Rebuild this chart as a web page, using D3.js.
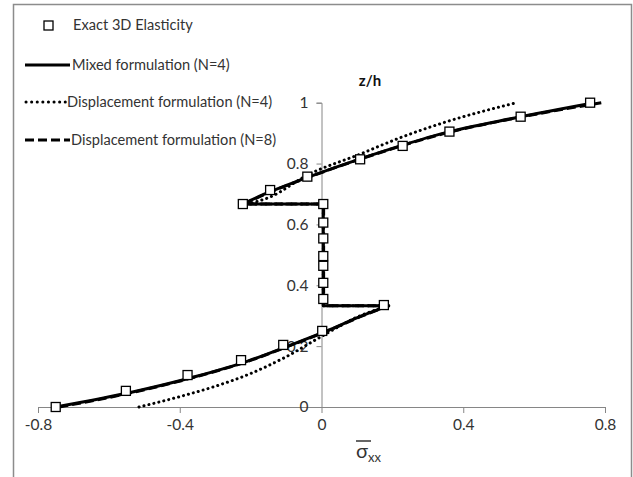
<!DOCTYPE html>
<html><head><meta charset="utf-8">
<script src="https://cdn.jsdelivr.net/npm/d3@7"></script>
<style>body{margin:0;background:#fff}svg{display:block}</style>
</head><body><svg id="c" width="633" height="477"></svg>
<script>
// ---- data ----
const exactX = [-0.75,-0.552,-0.378,-0.227,-0.108,0.002,0.176,0.005,0.005,0.005,0.005,0.005,0.005,0.005,-0.222,-0.145,-0.04,0.109,0.229,0.361,0.562,0.758];
const exactZ = [0,0.053,0.105,0.154,0.204,0.25,0.335,0.355,0.408,0.464,0.496,0.554,0.606,0.667,0.667,0.713,0.757,0.814,0.858,0.905,0.954,1.0];

const mixedX = [-0.75,-0.53,-0.355,-0.21,-0.095,0.015,0.115,0.19,0.005,0.005,-0.222,-0.16,-0.05,0.07,0.2,0.345,0.545,0.77];
const mixedZ = [0,0.05,0.1,0.15,0.2,0.25,0.3,0.333,0.333,0.667,0.667,0.7,0.75,0.8,0.85,0.9,0.95,1.0];

const disp4X = [-0.515,-0.4,-0.3,-0.2,-0.1,0,0.1,0.19,0.005,0.005,-0.21,-0.145,-0.04,0.109,0.22,0.36,0.544];
const disp4Z = [0,0.034,0.068,0.11,0.165,0.232,0.295,0.333,0.333,0.667,0.667,0.69,0.762,0.831,0.884,0.94,0.998];

const disp8X = [-0.74,-0.525,-0.352,-0.208,-0.093,0.017,0.117,0.192,0.006,0.006,-0.22,-0.158,-0.048,0.072,0.203,0.35,0.55,0.79];
const disp8Z = [0,0.05,0.1,0.15,0.2,0.25,0.3,0.333,0.333,0.667,0.667,0.7,0.75,0.8,0.85,0.9,0.95,1.0];

const xTicks = [-0.8,-0.4,0,0.4,0.8];
const yTicks = [0,0.2,0.4,0.6,0.8,1];
const legendLabels = ["Exact 3D Elasticity","Mixed formulation (N=4)","Displacement formulation (N=4)","Displacement formulation (N=8)"];

// ---- drawing ----
const svg = d3.select("#c");
const FONT = "Lato, 'Open Sans', sans-serif";
const TXT = "#333";
const AX = "#868686";

svg.append("path").attr("d","M13.5,490 V4.5 H631.5 V490").attr("fill","none").attr("stroke","#8c8c8c").attr("stroke-width",1.5);

const x = d3.scaleLinear().domain([-0.8,0.8]).range([38,605]);
const y = d3.scaleLinear().domain([0,1]).range([407,102.7]);

const gx = svg.append("g").attr("transform",`translate(0,${y(0)})`)
  .call(d3.axisBottom(x).tickValues(xTicks).tickSize(6).tickPadding(6).tickFormat(d=> d===0?"0":d3.format(".1f")(d).replace("−","-")));
const gy = svg.append("g").attr("transform",`translate(${x(0)},0)`)
  .call(d3.axisLeft(y).tickValues(yTicks).tickSize(5).tickPadding(8).tickFormat(d=> d===0||d===1? String(d) : d3.format(".1f")(d)));
[gx,gy].forEach(g=>{
  g.select(".domain").attr("stroke",AX).attr("stroke-width",1);
  g.selectAll(".tick line").attr("stroke",AX);
  g.selectAll(".tick text").attr("fill",TXT).attr("font-family",FONT).attr("font-size",15.5);
});

svg.append("text").attr("x",370).attr("y",86).attr("text-anchor","middle")
  .attr("font-family",FONT).attr("font-weight","bold").attr("font-size",15).attr("fill","#111").text("z/h");

const xl = svg.append("text").attr("x",356).attr("y",458).attr("font-family",FONT).attr("fill",TXT);
xl.append("tspan").attr("font-size",20).text("σ");
xl.append("tspan").attr("font-size",13).attr("dy",4).text("xx");
svg.append("line").attr("x1",356).attr("x2",371).attr("y1",441).attr("y2",441).attr("stroke",TXT).attr("stroke-width",1.5);

function pts(a,b){return a.map((v,i)=>[v,b[i]]);}
const smooth = d3.line().x(d=>x(d[0])).y(d=>y(d[1])).curve(d3.curveMonotoneX);
const straight = d3.line().x(d=>x(d[0])).y(d=>y(d[1]));
function seriesPath(xs,zs){
  const p = pts(xs,zs);
  const i1 = zs.indexOf(0.333);
  const i2 = zs.lastIndexOf(0.667);
  return smooth(p.slice(0,i1+1)) + straight(p.slice(i1,i2+1)) + smooth(p.slice(i2));
}

const gl = svg.append("g").attr("fill","none").attr("stroke","#000").attr("stroke-linejoin","round");
gl.append("path").attr("d",seriesPath(disp4X,disp4Z)).attr("stroke-width",3).attr("stroke-dasharray","0.1 5").attr("stroke-linecap","round");
gl.append("path").attr("d",seriesPath(disp8X,disp8Z)).attr("stroke-width",3).attr("stroke-dasharray","9 4");
gl.append("path").attr("d",seriesPath(mixedX,mixedZ)).attr("stroke-width",3);

svg.append("g").selectAll("rect").data(pts(exactX,exactZ)).join("rect")
  .attr("x",d=>x(d[0])-4.5).attr("y",d=>y(d[1])-4.5).attr("width",9).attr("height",9)
  .attr("fill","#fff").attr("stroke","#000").attr("stroke-width",1.3);

const lg = svg.append("g");
lg.append("rect").attr("x",44).attr("y",21).attr("width",9).attr("height",9).attr("fill","#fff").attr("stroke","#000").attr("stroke-width",1.3);
lg.append("line").attr("x1",25).attr("x2",70).attr("y1",65).attr("y2",65).attr("stroke","#000").attr("stroke-width",3);
lg.append("line").attr("x1",26).attr("x2",66).attr("y1",102).attr("y2",102).attr("stroke","#000").attr("stroke-width",3).attr("stroke-dasharray","0.1 5.5").attr("stroke-linecap","round");
lg.append("line").attr("x1",25).attr("x2",70).attr("y1",140).attr("y2",140).attr("stroke","#000").attr("stroke-width",3).attr("stroke-dasharray","9 4");
const lx = [73,72,67,71], ly = [25,65,102,140];
legendLabels.forEach((t,i)=>{
  lg.append("text").attr("x",lx[i]).attr("y",ly[i]).attr("dy","0.35em").attr("font-family",FONT).attr("font-size",14.6).attr("fill",TXT).text(t);
});
</script></body></html>
